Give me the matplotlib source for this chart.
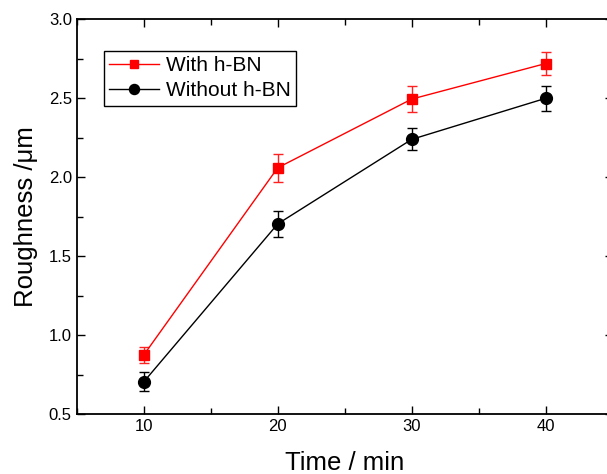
import matplotlib
matplotlib.use("Agg")
import matplotlib.pyplot as plt
from matplotlib.ticker import MultipleLocator

plt.rcParams['font.family'] = ['Liberation Sans', 'DejaVu Sans']

# 数据
time_min = [10, 20, 30, 40]
with_bn = [0.875, 2.06, 2.495, 2.72]
with_bn_err = [0.05, 0.09, 0.08, 0.07]
without_bn = [0.705, 1.705, 2.24, 2.50]
without_bn_err = [0.06, 0.08, 0.07, 0.08]

fig = plt.figure(figsize=(6.07, 4.74), dpi=100)
ax = fig.add_axes([0.1264, 0.126, 0.883, 0.8333])

# 误差棒单独画，图例只用折线+标记
ax.errorbar(time_min, with_bn, yerr=with_bn_err, fmt="none", ecolor="#ff2020",
            elinewidth=1, capsize=3.5, capthick=1)
ax.errorbar(time_min, without_bn, yerr=without_bn_err, fmt="none", ecolor="black",
            elinewidth=1, capsize=3.5, capthick=1)
ax.plot(time_min, with_bn, color="red", marker="s", markersize=7, linewidth=1,
        label="With h-BN")
ax.plot(time_min, without_bn, color="black", marker="o", markersize=8.5, linewidth=1,
        label="Without h-BN")

ax.set_xlim(5, 45)
ax.set_ylim(0.5, 3.0)
ax.xaxis.set_major_locator(MultipleLocator(10))
ax.xaxis.set_minor_locator(MultipleLocator(5))
ax.yaxis.set_major_locator(MultipleLocator(0.5))
ax.yaxis.set_minor_locator(MultipleLocator(0.25))
ax.tick_params(which="both", direction="in", top=True, right=True, labelsize=12, width=1)
ax.tick_params(which="major", length=6)
ax.tick_params(which="minor", length=4)
for s in ax.spines.values():
    s.set_linewidth(1.3)

ax.set_xlabel("Time / min", fontsize=18.5, labelpad=12)
ax.set_ylabel("Roughness /μm", fontsize=18.5, labelpad=8)

leg = ax.legend(loc="upper left", bbox_to_anchor=(0.051, 0.92), borderaxespad=0,
                fontsize=15, fancybox=False, edgecolor="black", framealpha=1,
                handlelength=2.4, handletextpad=0.3, borderpad=0.25, labelspacing=0.3,
                markerscale=0.85)
leg.get_frame().set_linewidth(1)

fig.savefig("out.png", dpi=100)
